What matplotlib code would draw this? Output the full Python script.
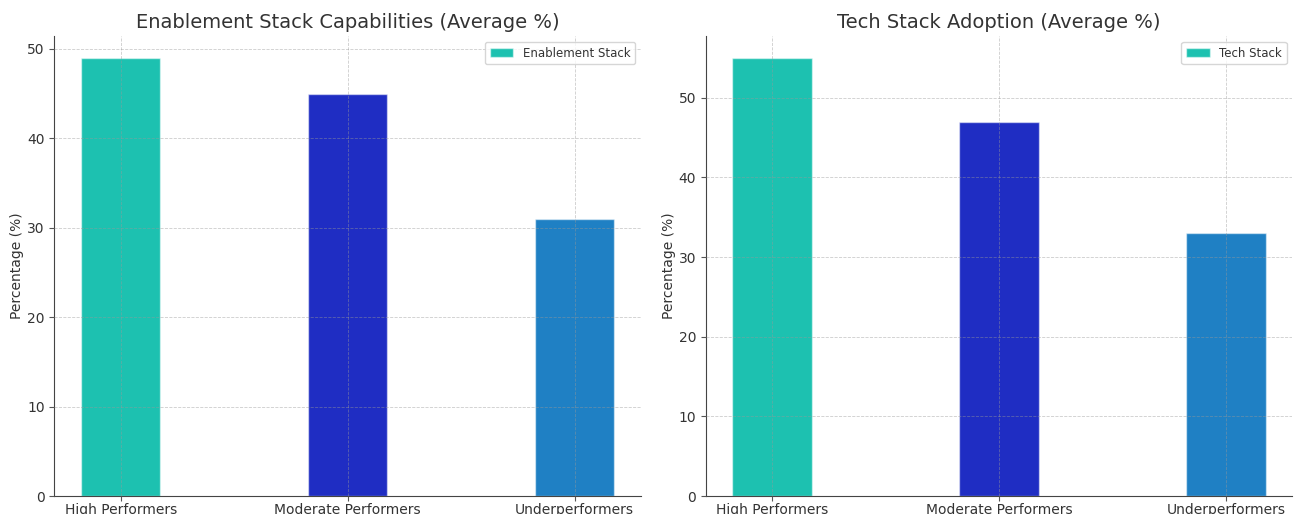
import matplotlib
matplotlib.use('Agg')
import matplotlib.pyplot as plt
import numpy as np

# data
groups = ['High Performers', 'Moderate Performers', 'Underperformers']
enablement = [49, 45, 31]
tech = [55, 47, 33]
colors = ['#1dc1b0', '#1f2dc3', '#1f80c4']

BAR_W = 0.35


def draw_panel(ax, values, title, label):
    x = np.arange(len(groups))
    bars = ax.bar(x, values, width=BAR_W, color=colors, zorder=0,
                  edgecolor=(1, 1, 1, 0.5), linewidth=1.0)
    bars[0].set_label(label)
    ax.set_xticks(x)
    ax.set_xticklabels(groups, fontsize=10, color='#333333')
    ax.tick_params(axis='both', labelsize=10, labelcolor='#333333', color='#555555')
    ax.tick_params(axis='x', pad=1.5)
    ax.set_ylabel('Percentage (%)', fontsize=10, color='#333333', labelpad=2)
    ax.set_title(title, fontsize=14, color='#333333', pad=6)
    ax.grid(True, linestyle='--', linewidth=0.6, color='#999999', alpha=0.5, zorder=1)
    ax.set_axisbelow(False)
    for s in ['top', 'right']:
        ax.spines[s].set_visible(False)
    for s in ['left', 'bottom']:
        ax.spines[s].set_color('#444444')
    ax.legend(loc='upper right', fontsize=8.5, handlelength=2, labelcolor='#333333')


fig = plt.figure(figsize=(12.95, 5.14), dpi=100)
ax1 = fig.add_axes([0.042, 0.035, 0.453, 0.895])
ax2 = fig.add_axes([0.545, 0.035, 0.453, 0.895])

draw_panel(ax1, enablement, 'Enablement Stack Capabilities (Average %)', 'Enablement Stack')
draw_panel(ax2, tech, 'Tech Stack Adoption (Average %)', 'Tech Stack')

fig.savefig('out.png', dpi=100)
